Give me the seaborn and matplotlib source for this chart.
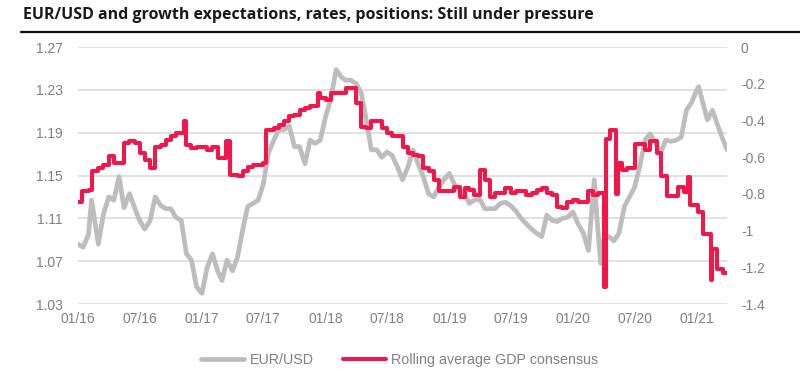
import pandas as pd
import matplotlib
matplotlib.use("Agg")
import matplotlib.pyplot as plt
import matplotlib.dates as mdates
from matplotlib.lines import Line2D
import seaborn as sns

# EUR/USD (left axis), read off the chart roughly twice a month
eurusd_dates = [
    "2016-01-01", "2016-01-16", "2016-02-01", "2016-02-10", "2016-02-16", "2016-03-01", "2016-03-16",
    "2016-04-01", "2016-04-16", "2016-05-01", "2016-05-16", "2016-06-01", "2016-06-16", "2016-07-01",
    "2016-07-16", "2016-08-01", "2016-08-16", "2016-09-01", "2016-09-16", "2016-10-01", "2016-10-16",
    "2016-11-01", "2016-11-16", "2016-12-01", "2016-12-16", "2017-01-01", "2017-01-16", "2017-02-01",
    "2017-02-16", "2017-03-01", "2017-03-16", "2017-04-01", "2017-04-16", "2017-05-01", "2017-05-16",
    "2017-06-01", "2017-06-16", "2017-07-01", "2017-07-16", "2017-08-01", "2017-08-16", "2017-09-01",
    "2017-09-16", "2017-10-01", "2017-10-16", "2017-11-01", "2017-11-16", "2017-12-01", "2017-12-16",
    "2018-01-01", "2018-01-16", "2018-02-01", "2018-02-16", "2018-03-01", "2018-03-16", "2018-04-01",
    "2018-04-16", "2018-05-01", "2018-05-16", "2018-06-01", "2018-06-16", "2018-07-01", "2018-07-16",
    "2018-08-01", "2018-08-16", "2018-09-01", "2018-09-16", "2018-10-01", "2018-10-16", "2018-11-01",
    "2018-11-16", "2018-12-01", "2018-12-16", "2019-01-01", "2019-01-16", "2019-02-01", "2019-02-16",
    "2019-03-01", "2019-03-16", "2019-04-01", "2019-04-16", "2019-05-01", "2019-05-16", "2019-06-01",
    "2019-06-16", "2019-07-01", "2019-07-16", "2019-08-01", "2019-08-16", "2019-09-01", "2019-09-16",
    "2019-10-01", "2019-10-16", "2019-11-01", "2019-11-16", "2019-12-01", "2019-12-16", "2020-01-01",
    "2020-01-16", "2020-02-01", "2020-02-16", "2020-03-04", "2020-03-12", "2020-03-23", "2020-04-01",
    "2020-04-16", "2020-05-01", "2020-05-16", "2020-06-01", "2020-06-16", "2020-07-01", "2020-07-16",
    "2020-08-01", "2020-08-16", "2020-09-01", "2020-09-16", "2020-10-01", "2020-10-16", "2020-11-01",
    "2020-11-16", "2020-12-01", "2020-12-16", "2021-01-01", "2021-01-06", "2021-01-16", "2021-02-01",
    "2021-02-16", "2021-03-01", "2021-03-16", "2021-03-31",
]
eurusd_values = [
    1.086, 1.083, 1.095, 1.127, 1.115, 1.086, 1.114,
    1.130, 1.127, 1.149, 1.120, 1.133, 1.120, 1.108,
    1.100, 1.108, 1.130, 1.122, 1.119, 1.119, 1.111,
    1.108, 1.077, 1.071, 1.046, 1.040, 1.064, 1.077,
    1.061, 1.052, 1.071, 1.061, 1.074, 1.099, 1.121,
    1.124, 1.127, 1.142, 1.171, 1.183, 1.193, 1.193,
    1.196, 1.177, 1.177, 1.161, 1.183, 1.180, 1.183,
    1.205, 1.221, 1.249, 1.242, 1.239, 1.239, 1.236,
    1.227, 1.202, 1.174, 1.174, 1.167, 1.172, 1.169,
    1.158, 1.146, 1.158, 1.174, 1.161, 1.149, 1.133,
    1.130, 1.139, 1.146, 1.152, 1.142, 1.136, 1.132,
    1.124, 1.127, 1.128, 1.119, 1.119, 1.119, 1.124,
    1.125, 1.122, 1.117, 1.110, 1.105, 1.100, 1.096,
    1.093, 1.113, 1.108, 1.107, 1.110, 1.111, 1.116,
    1.105, 1.096, 1.080, 1.146, 1.110, 1.068, 1.090,
    1.093, 1.089, 1.096, 1.121, 1.130, 1.139, 1.158,
    1.183, 1.189, 1.180, 1.171, 1.183, 1.182, 1.183,
    1.186, 1.211, 1.218, 1.230, 1.233, 1.221, 1.202,
    1.211, 1.199, 1.186, 1.174,
]

# Rolling average GDP consensus (right axis), step changes
gdp_dates = [
    "2016-01-01", "2016-01-12", "2016-02-01", "2016-02-12", "2016-03-01", "2016-03-16", "2016-04-01",
    "2016-04-16", "2016-05-01", "2016-05-16", "2016-06-01", "2016-06-16", "2016-07-01", "2016-07-16",
    "2016-08-01", "2016-08-16", "2016-09-01", "2016-09-16", "2016-10-01", "2016-10-16", "2016-11-01",
    "2016-11-08", "2016-11-14", "2016-12-01", "2016-12-16", "2017-01-01", "2017-01-16", "2017-02-01",
    "2017-02-16", "2017-03-01", "2017-03-12", "2017-03-25", "2017-04-16", "2017-05-01", "2017-05-16",
    "2017-06-01", "2017-06-16", "2017-07-01", "2017-07-10", "2017-08-01", "2017-08-16", "2017-09-01",
    "2017-09-16", "2017-10-01", "2017-10-16", "2017-11-01", "2017-11-16", "2017-12-01", "2017-12-10",
    "2017-12-16", "2018-01-01", "2018-01-16", "2018-02-01", "2018-02-16", "2018-03-01", "2018-03-16",
    "2018-04-01", "2018-04-16", "2018-05-01", "2018-05-16", "2018-06-01", "2018-06-16", "2018-07-01",
    "2018-07-16", "2018-08-01", "2018-08-16", "2018-09-01", "2018-09-16", "2018-10-01", "2018-10-16",
    "2018-11-01", "2018-11-16", "2018-12-01", "2018-12-16", "2019-01-01", "2019-01-16", "2019-02-01",
    "2019-02-16", "2019-03-01", "2019-03-16", "2019-04-01", "2019-04-16", "2019-05-01", "2019-05-16",
    "2019-06-01", "2019-06-16", "2019-07-01", "2019-07-16", "2019-08-01", "2019-08-16", "2019-09-01",
    "2019-09-16", "2019-10-01", "2019-10-16", "2019-11-01", "2019-11-16", "2019-12-01", "2019-12-16",
    "2020-01-01", "2020-01-16", "2020-02-01", "2020-02-16", "2020-03-01", "2020-03-16", "2020-04-01",
    "2020-04-08", "2020-04-20", "2020-05-06", "2020-05-12", "2020-05-25", "2020-06-10", "2020-07-03",
    "2020-08-01", "2020-08-16", "2020-09-05", "2020-09-16", "2020-10-05", "2020-11-05", "2020-11-25",
    "2020-12-06", "2020-12-12", "2021-01-05", "2021-01-18", "2021-02-12", "2021-02-16", "2021-03-01",
    "2021-03-20", "2021-03-31",
]
gdp_values = [
    -0.842, -0.787, -0.778, -0.678, -0.660, -0.642, -0.596,
    -0.633, -0.633, -0.524, -0.514, -0.524, -0.578, -0.615,
    -0.660, -0.542, -0.533, -0.505, -0.487, -0.469, -0.469,
    -0.405, -0.533, -0.551, -0.542, -0.542, -0.560, -0.542,
    -0.605, -0.605, -0.514, -0.696, -0.705, -0.678, -0.651,
    -0.642, -0.642, -0.633, -0.451, -0.442, -0.424, -0.405,
    -0.378, -0.369, -0.342, -0.333, -0.324, -0.324, -0.251,
    -0.278, -0.287, -0.251, -0.251, -0.251, -0.224, -0.224,
    -0.305, -0.433, -0.442, -0.405, -0.405, -0.442, -0.469,
    -0.487, -0.487, -0.542, -0.578, -0.587, -0.596, -0.660,
    -0.678, -0.724, -0.787, -0.787, -0.787, -0.760, -0.815,
    -0.769, -0.778, -0.805, -0.669, -0.724, -0.815, -0.796,
    -0.796, -0.769, -0.796, -0.787, -0.787, -0.805, -0.796,
    -0.778, -0.769, -0.796, -0.805, -0.869, -0.878, -0.842,
    -0.833, -0.842, -0.842, -0.787, -0.805, -0.796, -1.310,
    -0.500, -0.450, -0.800, -0.630, -0.670, -0.660, -0.530,
    -0.560, -0.510, -0.580, -0.700, -0.810, -0.760, -0.790,
    -0.710, -0.860, -0.900, -1.020, -1.270, -1.100, -1.210,
    -1.230, -1.230,
]

x_tick_dates = ["2016-01-01", "2016-07-01", "2017-01-01", "2017-07-01", "2018-01-01", "2018-07-01",
                "2019-01-01", "2019-07-01", "2020-01-01", "2020-07-01", "2021-01-01"]
left_ticks = [1.03, 1.07, 1.11, 1.15, 1.19, 1.23, 1.27]
right_ticks = [0, -0.2, -0.4, -0.6, -0.8, -1.0, -1.2, -1.4]
right_tick_labels = ["0", "-0.2", "-0.4", "-0.6", "-0.8", "-1", "-1.2", "-1.4"]

title = "EUR/USD and growth expectations, rates, positions: Still under pressure"
label_fx = "EUR/USD"
label_gdp = "Rolling average GDP consensus"

GREY = "#bdbdbd"
RED = "#f2174a"
TXT = "#808080"
GRID = "#d9d9d9"

sns.set_theme(style="white")
plt.rcParams["font.family"] = ["Liberation Sans", "DejaVu Sans"]

fx = pd.DataFrame({"date": pd.to_datetime(eurusd_dates), "value": eurusd_values})
gdp = pd.DataFrame({"date": pd.to_datetime(gdp_dates), "value": gdp_values})

fig = plt.figure(figsize=(8, 3.86), dpi=100)
ax = fig.add_axes([0.0975, 0.2124, 0.8113, 0.6658])
ax2 = ax.twinx()

sns.lineplot(data=fx, x="date", y="value", ax=ax, color=GREY, linewidth=3.4,
             estimator=None, label=label_fx, legend=False)
sns.lineplot(data=gdp, x="date", y="value", ax=ax2, color=RED, linewidth=2.9,
             estimator=None, drawstyle="steps-post", label=label_gdp, legend=False)

ax.set_xlim(pd.Timestamp("2016-01-01"), pd.Timestamp("2021-03-31"))
ax.set_ylim(1.03, 1.27)
ax2.set_ylim(-1.4, 0)

ax.set_yticks(left_ticks)
ax.set_yticklabels([f"{v:.2f}" for v in left_ticks])
ax2.set_yticks(right_ticks)
ax2.set_yticklabels(right_tick_labels)

ax.set_xticks(pd.to_datetime(x_tick_dates))
ax.xaxis.set_major_formatter(mdates.DateFormatter("%m/%y"))

ax.grid(axis="y", color=GRID, linewidth=1.1)
ax.grid(axis="x", visible=False)
ax2.grid(False)
for a in (ax, ax2):
    for s in a.spines.values():
        s.set_visible(False)
    a.set_xlabel("")
    a.set_ylabel("")

ax.tick_params(axis="y", length=0, pad=11, labelsize=10, labelcolor=TXT)
ax2.tick_params(axis="y", length=0, pad=10, labelsize=10, labelcolor=TXT)
ax.tick_params(axis="x", direction="inout", length=5, width=1, color=GRID,
               pad=3, labelsize=10, labelcolor=TXT)

# title and the rule under it
fig.text(0.029, 0.962, title, fontsize=11.5, fontweight="bold", color="#1a1a1a",
         family=["Open Sans", "DejaVu Sans"], va="center", ha="left")
fig.add_artist(Line2D([0.026, 1.0], [0.918, 0.918], color="#111111", linewidth=1.6))

handles = [Line2D([], [], color=GREY, linewidth=3.4), Line2D([], [], color=RED, linewidth=2.9)]
fig.legend(handles, [label_fx, label_gdp], loc="center", bbox_to_anchor=(0.5, 0.068), ncol=2,
           frameon=False, fontsize=10.3, labelcolor=TXT, handlelength=3.0, handletextpad=0.4,
           columnspacing=2.0)

fig.savefig("out.png", dpi=100)
